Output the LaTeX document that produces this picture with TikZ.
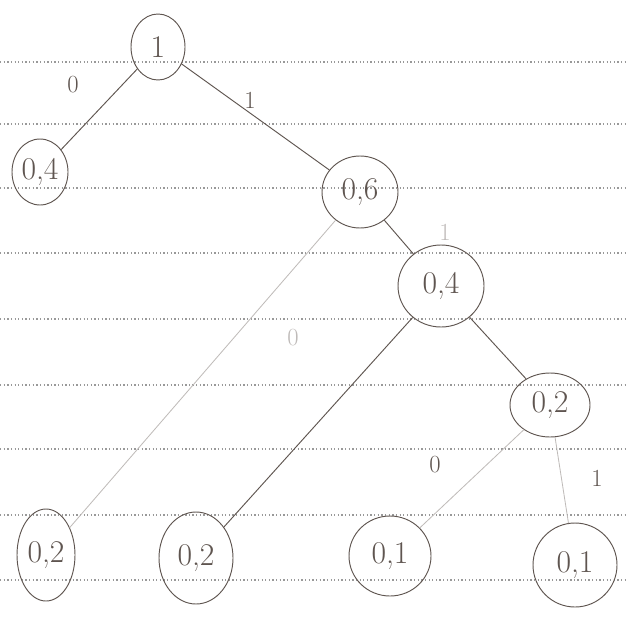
\documentclass[tikz,border=0pt]{standalone}
\usetikzlibrary{shapes.geometric}
\definecolor{ink}{RGB}{95,85,80}
\begin{document}
\begin{tikzpicture}[x=0.03cm,y=-0.03cm,
  pen/.style={draw=ink, line width=0.8pt},
  faint/.style={draw=ink!40, line width=0.7pt},
  nd/.style={ellipse, pen, inner sep=0pt, font=\fontsize{27}{30}\selectfont, text=ink},
  lbl/.style={font=\fontsize{21}{24}\selectfont, text=ink},
  flbl/.style={font=\fontsize{21}{24}\selectfont, text=ink!40},
  rule/.style={draw=gray!80, line width=1.1pt, dotted}]
\useasboundingbox (0,0) rectangle (628,619);
\fill[white] (0,0) rectangle (628,619);
\foreach \y in {62,124,188,253,319,385,449,515,580}
  \draw[rule] (0,\y) -- (628,\y);
% nodes
\node[nd, minimum width=54*0.03cm, minimum height=66*0.03cm] (r) at (158,47) {1};
\node[nd, minimum width=56*0.03cm, minimum height=66*0.03cm] (a) at (40,172) {0,4};
\node[nd, minimum width=76*0.03cm, minimum height=72*0.03cm] (b) at (360,192) {0,6};
\node[nd, minimum width=86*0.03cm, minimum height=82*0.03cm] (c) at (441,286) {0,4};
\node[nd, minimum width=80*0.03cm, minimum height=64*0.03cm] (d) at (550,405) {0,2};
\node[nd, minimum width=58*0.03cm, minimum height=92*0.03cm] (e) at (46,555) {0,2};
\node[nd, minimum width=74*0.03cm, minimum height=92*0.03cm] (f) at (196,558) {0,2};
\node[nd, minimum width=82*0.03cm, minimum height=80*0.03cm] (g) at (390,556) {0,1};
\node[nd, minimum width=84*0.03cm, minimum height=84*0.03cm] (h) at (575,565) {0,1};
% edges
\draw[pen] (r) -- (a);
\draw[pen] (r) -- (b);
\draw[pen] (b) -- (c);
\draw[faint] (b) -- (e);
\draw[pen] (c) -- (f);
\draw[pen] (c) -- (d);
\draw[faint] (d) -- (g);
\draw[faint] (d) -- (h);
% edge labels
\node[lbl] (l1) at (73,85) {0};
\node[lbl] (l2) at (250,100) {1};
\node[flbl] (l3) at (445,232) {1};
\node[flbl] (l4) at (293,338) {0};
\node[lbl] (l5) at (435,465) {0};
\node[lbl] (l6) at (597,478) {1};
\end{tikzpicture}
\end{document}
